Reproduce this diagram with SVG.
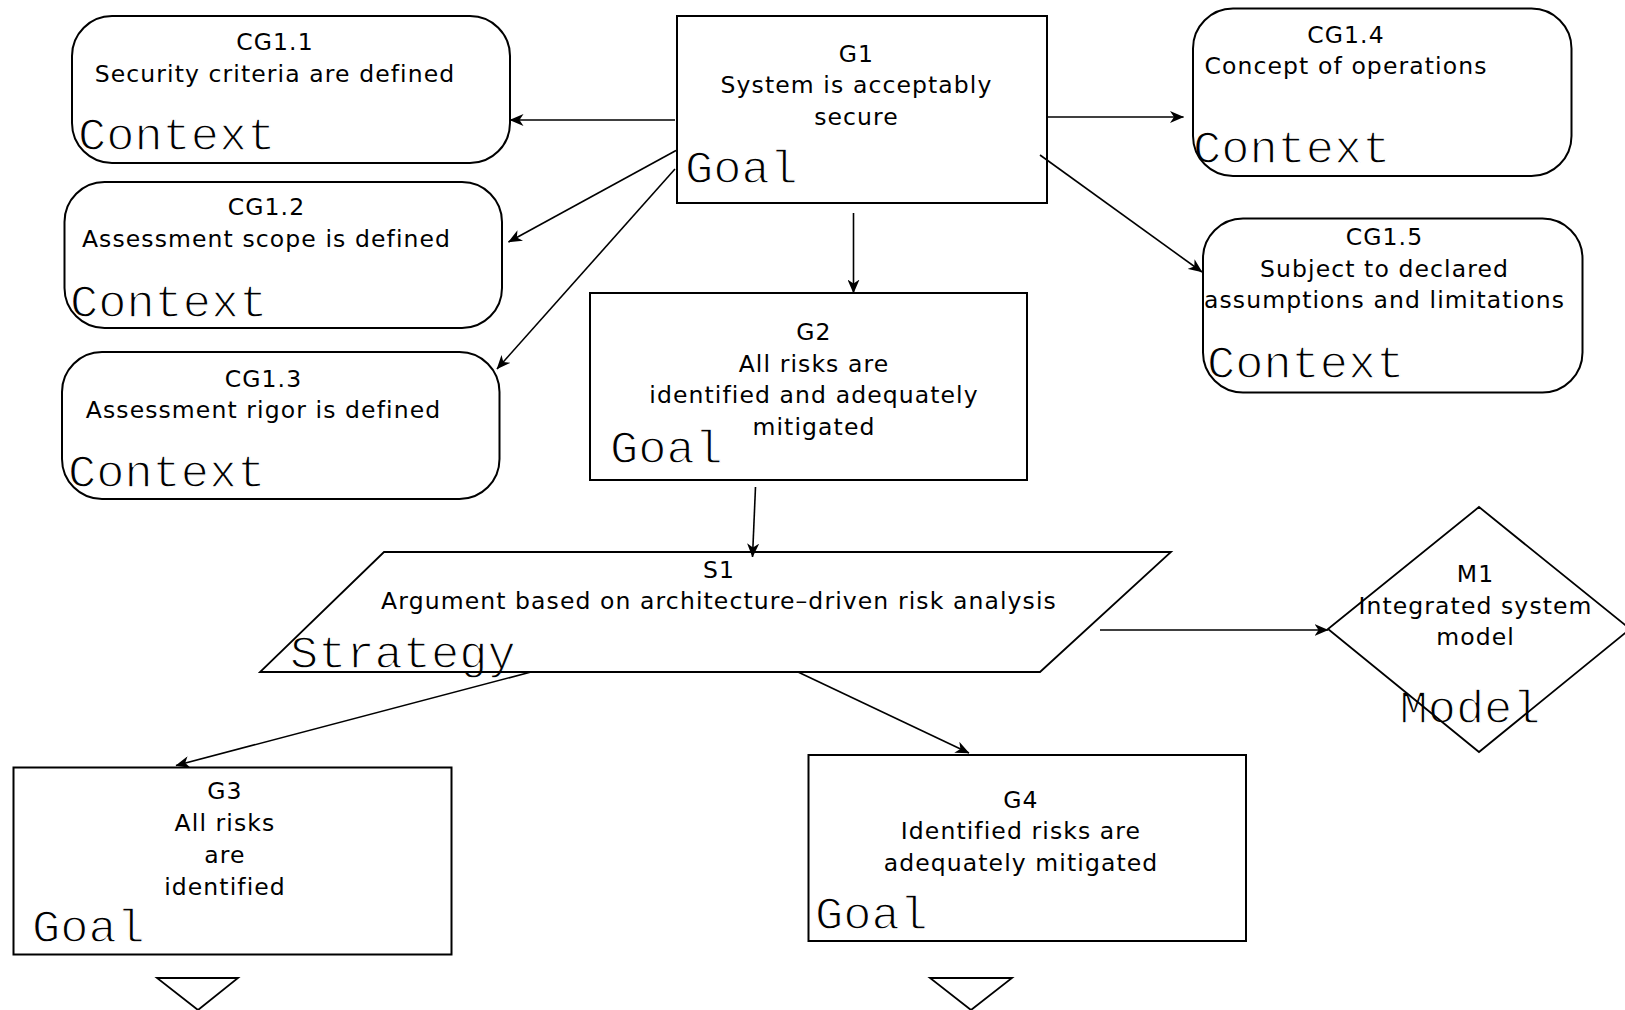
<svg xmlns="http://www.w3.org/2000/svg" width="1625" height="1010" viewBox="0 0 1625 1010">
  <style>
    .box { fill: none; stroke: #000000; stroke-width: 2; }
    .shape { fill: none; stroke: #000000; stroke-width: 1.8; }
    .lbl { font-family: "DejaVu Sans", "Liberation Sans", sans-serif; font-size: 23.5px; letter-spacing: 1.1px; fill: #000000; text-anchor: middle; }
    /* node-type captions: thin typewriter face (white outline trims the stroke weight) */
    .kind { font-family: "Liberation Mono", "DejaVu Sans Mono", monospace; font-size: 47px; fill: #000000; stroke: #ffffff; stroke-width: 1.3px; }
    .edge { fill: none; stroke: #000000; stroke-width: 1.6; marker-end: url(#arrow); }
  </style>
  <defs>
    <marker id="arrow" viewBox="0 0 14 12" refX="13.5" refY="6" markerWidth="14" markerHeight="12" markerUnits="userSpaceOnUse" orient="auto">
      <path d="M0,0 L14,6 L0,12 L4,6 Z" fill="#000000"/>
    </marker>
  </defs>

  <rect x="0" y="0" width="1625" height="1010" fill="#ffffff"/>

  <!-- Each node: labels first, outline on top so borders stay unbroken where captions overlap them -->

  <!-- top-level goal -->
  <g id="G1">
    <text class="lbl" x="856.5" y="61.7">G1</text>
    <text class="lbl" x="856.5" y="93">System is acceptably</text>
    <text class="lbl" x="856.5" y="124.5">secure</text>
    <text class="kind" x="685" y="183.3">Goal</text>
    <rect class="box" x="677" y="16" width="370" height="187"/>
  </g>

  <!-- context nodes, left column -->
  <g id="CG1.1">
    <text class="lbl" x="275" y="50">CG1.1</text>
    <text class="lbl" x="275" y="82">Security criteria are defined</text>
    <text class="kind" x="78" y="150">Context</text>
    <rect class="box" x="72" y="16" width="438" height="147" rx="40" ry="40"/>
  </g>
  <g id="CG1.2">
    <text class="lbl" x="266.5" y="215">CG1.2</text>
    <text class="lbl" x="266.5" y="246.7">Assessment scope is defined</text>
    <text class="kind" x="70" y="316.7">Context</text>
    <rect class="box" x="64.5" y="182" width="437.5" height="146" rx="40" ry="40"/>
  </g>
  <g id="CG1.3">
    <text class="lbl" x="263.5" y="386.7">CG1.3</text>
    <text class="lbl" x="263.5" y="418.3">Assessment rigor is defined</text>
    <text class="kind" x="68" y="486.7">Context</text>
    <rect class="box" x="62" y="352" width="437.5" height="147" rx="40" ry="40"/>
  </g>

  <!-- context nodes, right column -->
  <g id="CG1.4">
    <text class="lbl" x="1346" y="42.7">CG1.4</text>
    <text class="lbl" x="1346" y="74">Concept of operations</text>
    <text class="kind" x="1193" y="163.3">Context</text>
    <rect class="box" x="1193" y="8.5" width="378.5" height="167.5" rx="40" ry="40"/>
  </g>
  <g id="CG1.5">
    <text class="lbl" x="1384.5" y="245">CG1.5</text>
    <text class="lbl" x="1384.5" y="276.7">Subject to declared</text>
    <text class="lbl" x="1384.5" y="308.3">assumptions and limitations</text>
    <text class="kind" x="1207" y="378.3">Context</text>
    <rect class="box" x="1203" y="218.5" width="379.5" height="174" rx="40" ry="40"/>
  </g>

  <!-- sub-goal -->
  <g id="G2">
    <text class="lbl" x="814" y="340">G2</text>
    <text class="lbl" x="814" y="371.5">All risks are</text>
    <text class="lbl" x="814" y="403.3">identified and adequately</text>
    <text class="lbl" x="814" y="435">mitigated</text>
    <text class="kind" x="610" y="463.3">Goal</text>
    <rect class="box" x="590" y="293" width="437" height="187"/>
  </g>

  <!-- strategy -->
  <g id="S1">
    <text class="lbl" x="719" y="577.7">S1</text>
    <text class="lbl" x="719" y="609">Argument based on architecture–driven risk analysis</text>
    <text class="kind" x="290" y="668.3">Strategy</text>
    <polygon class="shape" points="384,552 1171,552 1040,672 260,672"/>
  </g>

  <!-- model -->
  <g id="M1">
    <text class="lbl" x="1475.5" y="582.3">M1</text>
    <text class="lbl" x="1475.5" y="614">Integrated system</text>
    <text class="lbl" x="1475.5" y="645">model</text>
    <text class="kind" x="1470" y="723.3" text-anchor="middle">Model</text>
    <polygon class="shape" points="1479,507 1630,629 1479,752 1328,629"/>
  </g>

  <!-- leaf goals with undeveloped markers -->
  <g id="G3">
    <text class="lbl" x="225" y="799.3">G3</text>
    <text class="lbl" x="225" y="831">All risks</text>
    <text class="lbl" x="225" y="862.7">are</text>
    <text class="lbl" x="225" y="895">identified</text>
    <text class="kind" x="32" y="941.7">Goal</text>
    <rect class="box" x="13.5" y="767.5" width="438" height="187"/>
    <polygon class="shape" points="157,978 238,978 198,1010"/>
  </g>
  <g id="G4">
    <text class="lbl" x="1021" y="807.5">G4</text>
    <text class="lbl" x="1021" y="839">Identified risks are</text>
    <text class="lbl" x="1021" y="870.5">adequately mitigated</text>
    <text class="kind" x="815" y="929.3">Goal</text>
    <rect class="box" x="808.5" y="755" width="437.5" height="186"/>
    <polygon class="shape" points="930,978 1012,978 971,1010"/>
  </g>

  <!-- connectors -->
  <g id="connectors">
    <line class="edge" x1="675" y1="120" x2="510" y2="120"/>
    <line class="edge" x1="676" y1="150.5" x2="508.5" y2="242"/>
    <line class="edge" x1="675" y1="169" x2="497" y2="369"/>
    <line class="edge" x1="1047" y1="117" x2="1183.5" y2="117"/>
    <line class="edge" x1="1040" y1="155" x2="1202" y2="272"/>
    <line class="edge" x1="853.5" y1="213" x2="853.5" y2="293"/>
    <line class="edge" x1="755.5" y1="487" x2="752.5" y2="557"/>
    <line class="edge" x1="1100" y1="630" x2="1328" y2="630"/>
    <line class="edge" x1="531" y1="672" x2="176" y2="765.5"/>
    <line class="edge" x1="798" y1="672" x2="969" y2="753"/>
  </g>
</svg>
